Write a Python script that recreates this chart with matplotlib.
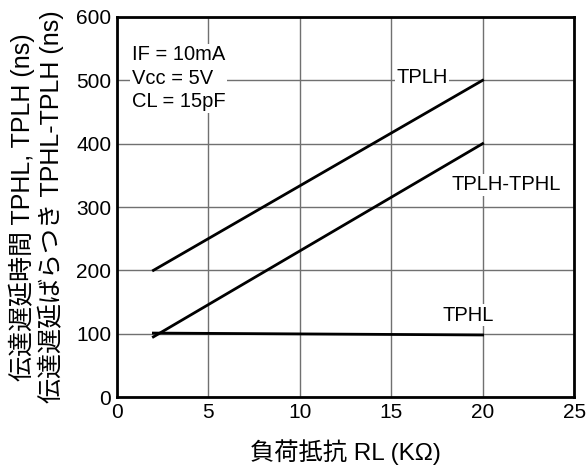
import matplotlib
matplotlib.use("Agg")
import matplotlib.pyplot as plt

plt.rcParams['font.family'] = ['Liberation Sans', 'Noto Sans CJK JP', 'DejaVu Sans']

rl = [2, 20]
tplh = [200, 500]
tplh_tphl = [95, 400]
tphl = [101, 98]

xticks = [0, 5, 10, 15, 20, 25]
yticks = [0, 100, 200, 300, 400, 500, 600]

fig = plt.figure(figsize=(5.87, 4.71), dpi=100)
ax = fig.add_axes([0.199, 0.157, 0.779, 0.807])

ax.plot(rl, tplh, color='black', lw=2)
ax.plot(rl, tplh_tphl, color='black', lw=2)
ax.plot(rl, tphl, color='black', lw=2)

ax.set_xlim(0, 25)
ax.set_ylim(0, 600)
ax.set_xticks(xticks)
ax.set_yticks(yticks)
ax.grid(True, color='#707070', lw=1)
ax.tick_params(length=0, labelsize=15, pad=4)
for s in ax.spines.values():
    s.set_linewidth(2)

bbox = dict(facecolor='white', edgecolor='none', pad=1)
ax.text(16.7, 505, 'TPLH', ha='center', va='center', fontsize=14.5, bbox=bbox)
ax.text(21.3, 335, 'TPLH-TPHL', ha='center', va='center', fontsize=14.5, bbox=bbox)
ax.text(19.2, 129, 'TPHL', ha='center', va='center', fontsize=14.5, bbox=bbox)
ax.text(0.033, 0.925, 'IF = 10mA\nVcc = 5V\nCL = 15pF', transform=ax.transAxes,
        ha='left', va='top', fontsize=14.5, linespacing=1.3, bbox=bbox)

ax.set_xlabel('負荷抵抗 RL (KΩ)', fontsize=17.5, labelpad=13)
ax.set_ylabel('伝達遅延時間 TPHL, TPLH (ns)\n伝達遅延ばらつき TPHL-TPLH (ns)', fontsize=18, labelpad=9, linespacing=1.1)

fig.savefig('out.png', dpi=100)
